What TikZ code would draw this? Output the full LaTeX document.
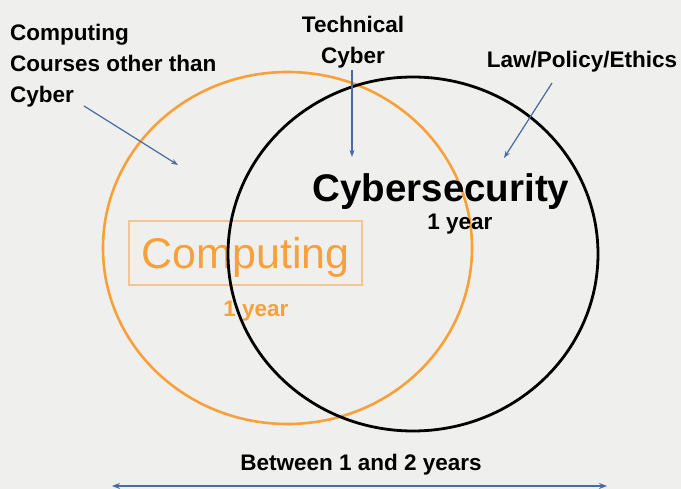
\documentclass[tikz,border=0pt]{standalone}
\usepackage{fontspec}
\setmainfont{Liberation Sans}
\usetikzlibrary{arrows.meta}
\definecolor{paper}{RGB}{239,239,237}
\definecolor{comporange}{RGB}{249,160,58}
\definecolor{boxorange}{RGB}{246,196,140}
\definecolor{pointblue}{RGB}{72,108,160}
\begin{document}
\begin{tikzpicture}
  [x=1pt,y=-1pt,every node/.style={inner sep=0pt,font=\bfseries\fontsize{22.5}{31}\selectfont}]
  \tikzstyle{pointer} = [pointblue,line width=1.2pt,-{Stealth[length=7pt,width=5pt]}]
  \tikzstyle{big} = [font=\fontsize{43}{43}\selectfont]
  \fill[paper] (0,0) rectangle (681,489);
  \useasboundingbox (0,0) rectangle (681,489);
  \draw[comporange,line width=2.6pt] (287.5,248) ellipse [x radius=184.5,y radius=176];
  \node[big,comporange,draw=boxorange,line width=1.2pt,minimum width=233pt,minimum height=64pt,text depth=0pt] (comp) at (245.5,253) {Computing};
  \node[comporange,anchor=base] (compyr) at (256,317) {1 year};
  \draw[black,line width=2.8pt] (413,254) ellipse [x radius=185,y radius=177];
  \node[font=\bfseries\fontsize{38.5}{38.5}\selectfont,anchor=base] (cyb) at (441,202) {Cybersecurity};
  \node[anchor=base] (cybyr) at (460,230) {1 year};
  \node[anchor=north west,align=left] (cc) at (10,24) {Computing\\Courses other than\\Cyber};
  \node[anchor=north,align=center] (tc) at (353,16) {Technical\\Cyber};
  \node[anchor=base] (lpe) at (582,68) {Law/Policy/Ethics};
  \node[anchor=base] (span) at (361,471) {Between 1 and 2 years};
  \coordinate (cc1) at (84,106);  \coordinate (cc2) at (178,165);
  \coordinate (tc1) at (352,70);  \coordinate (tc2) at (352,157);
  \coordinate (lpe1) at (552,83); \coordinate (lpe2) at (504,158);
  \coordinate (left) at (112,486); \coordinate (right) at (607,486);
  \foreach \source/\dest in {cc1/cc2,tc1/tc2,lpe1/lpe2}
   \draw[pointer] (\source) -- (\dest);
  \draw[pointblue,line width=2pt,{Stealth[length=8pt,width=6pt]}-{Stealth[length=8pt,width=6pt]}] (left) -- (right);
\end{tikzpicture}
\end{document}
